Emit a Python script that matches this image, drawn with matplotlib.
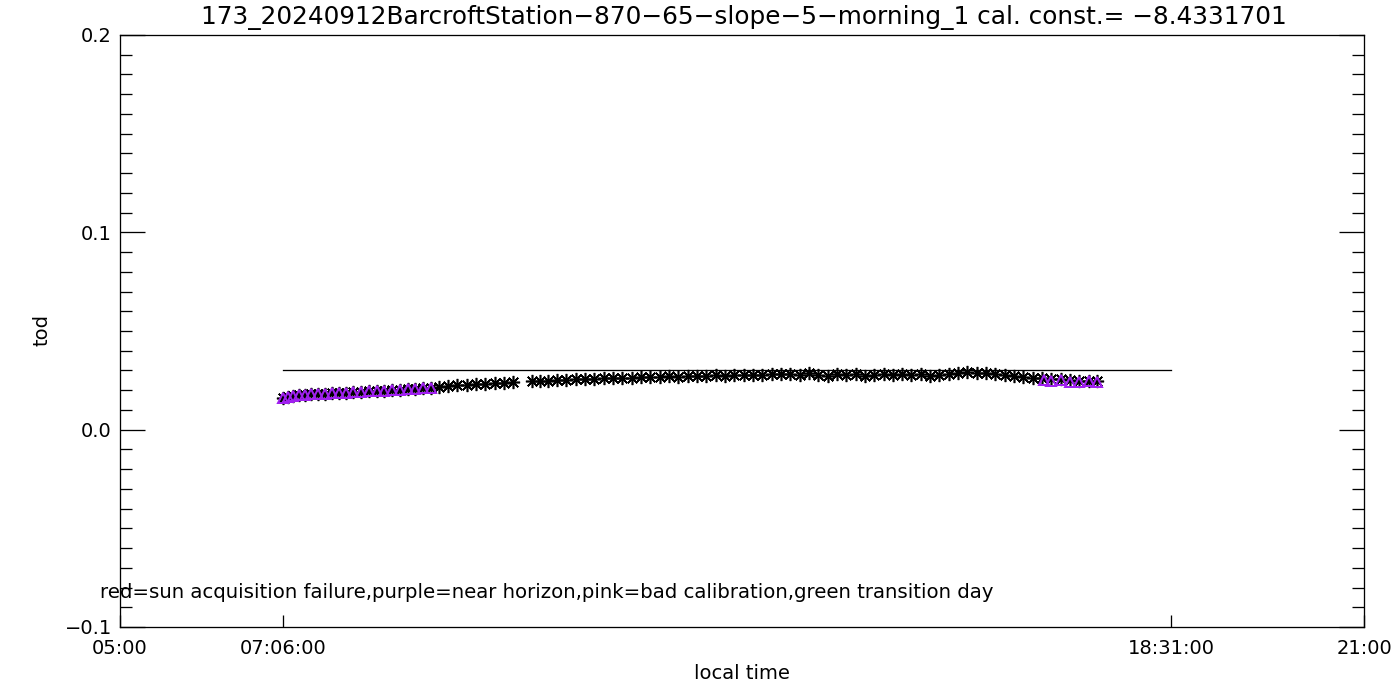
import numpy as np
import matplotlib
matplotlib.use("Agg")
import matplotlib.pyplot as plt
from matplotlib.ticker import MultipleLocator

# local time (decimal hours) and tod
hours = [7.10, 7.16, 7.23, 7.30, 7.38, 7.46, 7.55, 7.64, 7.73, 7.82,
         7.91, 8.00, 8.10, 8.20, 8.30, 8.40, 8.50, 8.60, 8.70, 8.80,
         8.90, 9.00, 9.10, 9.22, 9.34, 9.46, 9.58, 9.70, 9.82, 9.94,
         10.06, 10.30, 10.40, 10.50, 10.62, 10.74, 10.86, 10.98, 11.10, 11.22,
         11.34, 11.46, 11.58, 11.70, 11.82, 11.94, 12.06, 12.18, 12.30, 12.42,
         12.54, 12.66, 12.78, 12.90, 13.02, 13.14, 13.26, 13.38, 13.50, 13.62,
         13.74, 13.86, 13.98, 14.10, 14.22, 14.34, 14.46, 14.58, 14.70, 14.82,
         14.94, 15.06, 15.18, 15.30, 15.42, 15.54, 15.66, 15.78, 15.90, 16.02,
         16.14, 16.26, 16.38, 16.50, 16.62, 16.74, 16.86, 16.98, 17.10, 17.22,
         17.34, 17.46, 17.56]
tod = [0.0158, 0.0168, 0.0172, 0.0176, 0.0178, 0.0180, 0.0182, 0.0183, 0.0185, 0.0187,
       0.0188, 0.0190, 0.0192, 0.0194, 0.0196, 0.0198, 0.0200, 0.0202, 0.0205, 0.0207,
       0.0210, 0.0213, 0.0216, 0.0220, 0.0224, 0.0228, 0.0231, 0.0233, 0.0236, 0.0239,
       0.0241, 0.0246, 0.0248, 0.0249, 0.0251, 0.0252, 0.0255, 0.0257, 0.0258, 0.0260,
       0.0262, 0.0263, 0.0264, 0.0266, 0.0265, 0.0268, 0.0270, 0.0269, 0.0272, 0.0271,
       0.0273, 0.0275, 0.0274, 0.0276, 0.0278, 0.0277, 0.0279, 0.0280, 0.0284, 0.0282,
       0.0279, 0.0285, 0.0278, 0.0270, 0.0281, 0.0276, 0.0283, 0.0270, 0.0279, 0.0281,
       0.0278, 0.0282, 0.0277, 0.0280, 0.0271, 0.0279, 0.0284, 0.0287, 0.0290, 0.0289,
       0.0285, 0.0280, 0.0276, 0.0272, 0.0266, 0.0264, 0.0262, 0.0259, 0.0255, 0.0251,
       0.0249, 0.0247, 0.0245]

# points flagged "near horizon" (purple)
purple_hours = [7.10, 7.16, 7.23, 7.30, 7.38, 7.46, 7.55, 7.64, 7.73, 7.82,
                7.91, 8.00, 8.10, 8.20, 8.30, 8.40, 8.50, 8.60, 8.70, 8.80,
                8.90, 9.00, 16.88, 16.98, 17.10, 17.22, 17.34, 17.46, 17.56]
purple_tod = [0.0158, 0.0168, 0.0172, 0.0176, 0.0178, 0.0180, 0.0182, 0.0183, 0.0185, 0.0187,
              0.0188, 0.0190, 0.0192, 0.0194, 0.0196, 0.0198, 0.0200, 0.0202, 0.0205, 0.0207,
              0.0210, 0.0213, 0.0250, 0.0246, 0.0250, 0.0244, 0.0240, 0.0246, 0.0243]

ref_hours = [7.1, 18.5167]
ref_tod = [0.030, 0.030]

xticks = [5.0, 7.1, 18.5167, 21.0]
xticklabels = ["05:00", "07:06:00", "18:31:00", "21:00"]
yticks = [-0.1, 0.0, 0.1, 0.2]
yticklabels = ["\u22120.1", "0.0", "0.1", "0.2"]

title = ("173_20240912BarcroftStation\u2212870\u221265\u2212slope\u22125\u2212morning_1"
         " cal. const.= \u22128.4331701")
note = ("red=sun acquisition failure,purple=near horizon,"
        "pink=bad calibration,green transition day")

W, H = 1400, 700
PX = 0.72  # points per pixel at dpi 100
fig = plt.figure(figsize=(W / 100, H / 100), dpi=100)
ax = fig.add_axes([120 / W, 1 - 627 / H, (1364 - 120) / W, (627 - 35) / H])

ax.plot(ref_hours, ref_tod, color="black", lw=1.3 * PX)
ax.plot(hours, tod, ls="none", marker=(8, 2, 0), ms=12 * PX * 1.1, mew=1.6 * PX,
        color="black")
ax.plot(purple_hours, purple_tod, ls="none", marker="^", ms=10 * PX, mew=2.0 * PX,
        mfc="none", mec="#a020f0")

ax.set_xlim(5, 21)
ax.set_ylim(-0.1, 0.2)
ax.set_xticks(xticks)
ax.set_xticklabels(xticklabels)
ax.set_yticks(yticks)
ax.set_yticklabels(yticklabels)
ax.yaxis.set_minor_locator(MultipleLocator(0.01))

ax.tick_params(which="both", direction="in", right=True, top=False,
               labelsize=14, width=1.3 * PX, color="black")
ax.tick_params(axis="y", which="major", length=25 * PX, pad=8 * PX)
ax.tick_params(axis="y", which="minor", length=12 * PX)
ax.tick_params(axis="x", which="major", length=12 * PX, pad=12 * PX)
for s in ax.spines.values():
    s.set_linewidth(1.3 * PX)

ax.set_xlabel("local time", fontsize=14, labelpad=4)
fig.text(42 / W, 1 - 330 / H, "tod", fontsize=14, rotation=90,
         ha="center", va="center")
fig.text(744 / W, 1 - 17 / H, title, fontsize=17.8, ha="center", va="center")
fig.text(100 / W, 1 - 593 / H, note, fontsize=14.2, ha="left", va="center")

fig.savefig("out.png", dpi=100)
